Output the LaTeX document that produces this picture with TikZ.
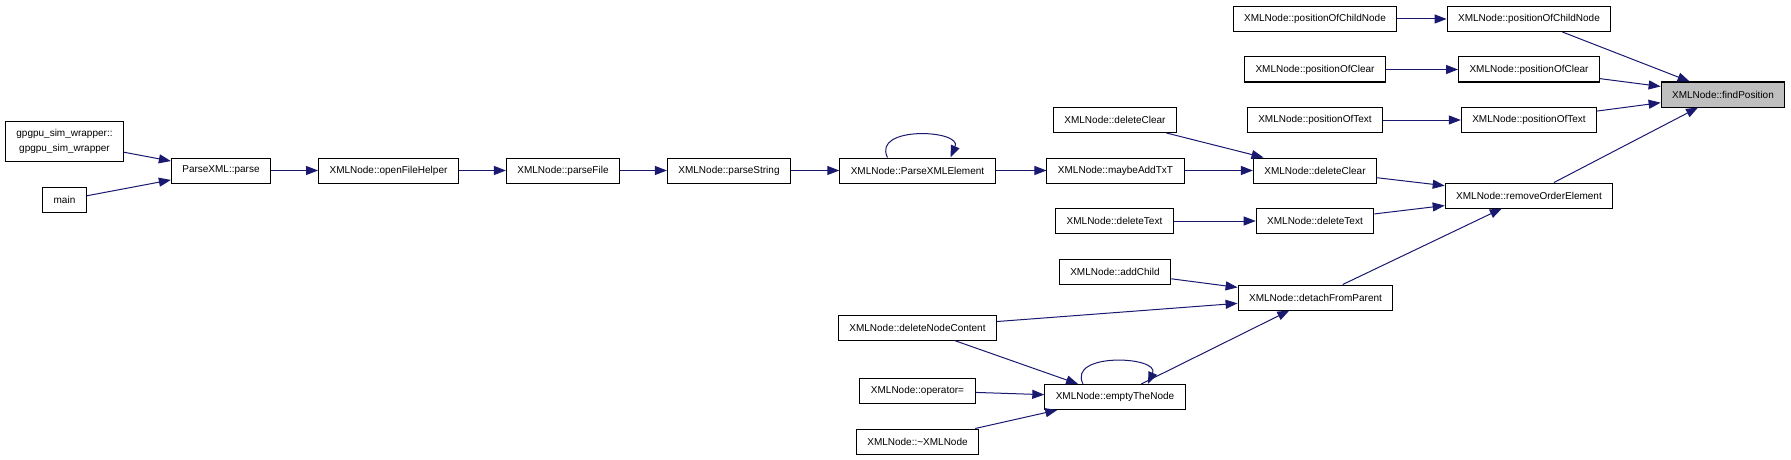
\documentclass[tikz,border=0pt]{standalone}
\usepackage{fontspec}
\setmainfont{Liberation Sans}
\usepackage{tikz}
\usetikzlibrary{arrows.meta}
\definecolor{callblue}{HTML}{191970}
\tikzset{%
  callarrow/.style = {-{Triangle[length=12pt,width=9pt]},draw=callblue,
        line width=1pt},
  fn/.style = {rectangle,draw,solid,line width=1pt,fill=white,
        inner xsep=11pt,inner ysep=0pt,minimum height=25pt,
        font=\fontsize{10}{12}\selectfont},
  fncur/.style = {fn,fill=black!25}
}
\begin{document}
\begin{tikzpicture}[x=1pt,y=1pt]
\useasboundingbox (0,0) rectangle (1791,-460);
\node[fn,minimum height=40pt,align=center,font=\fontsize{10}{15}\selectfont]
    (gpgpu) at (64.5,-141) {gpgpu\_sim\_wrapper::\\gpgpu\_sim\_wrapper};
\node[fn] (main) at (64.5,-200) {main};
\node[fn] (parse) at (221,-170.5) {ParseXML::parse};
\node[fn] (openfh) at (388.5,-170.5) {XMLNode::openFileHelper};
\node[fn] (parsefile) at (563,-170.5) {XMLNode::parseFile};
\node[fn] (parsestr) at (729,-170.5) {XMLNode::parseString};
\node[fn] (pxe) at (917.5,-170.5) {XMLNode::ParseXMLElement};
\node[fn] (maybeadd) at (1115.5,-170.5) {XMLNode::maybeAddTxT};
\node[fn] (delclrA) at (1115,-120) {XMLNode::deleteClear};
\node[fn] (deltxtA) at (1114.5,-221) {XMLNode::deleteText};
\node[fn] (addchild) at (1115,-271.5) {XMLNode::addChild};
\node[fn] (delnode) at (917.5,-327.5) {XMLNode::deleteNodeContent};
\node[fn] (opeq) at (917.5,-390.5) {XMLNode::operator=};
\node[fn] (dtor) at (917.5,-441.5) {XMLNode::\textasciitilde XMLNode};
\node[fn] (empty) at (1115,-397) {XMLNode::emptyTheNode};
\node[fn] (pocnA) at (1315,-19) {XMLNode::positionOfChildNode};
\node[fn] (poclA) at (1315,-69.5) {XMLNode::positionOfClear};
\node[fn] (potA) at (1315,-120) {XMLNode::positionOfText};
\node[fn] (delclrB) at (1315,-170.5) {XMLNode::deleteClear};
\node[fn] (deltxtB) at (1315,-221) {XMLNode::deleteText};
\node[fn] (detach) at (1315.5,-297.5) {XMLNode::detachFromParent};
\node[fn] (pocnB) at (1529,-19) {XMLNode::positionOfChildNode};
\node[fn] (poclB) at (1529,-69.5) {XMLNode::positionOfClear};
\node[fn] (potB) at (1529,-120) {XMLNode::positionOfText};
\node[fn] (remove) at (1529,-195.5) {XMLNode::removeOrderElement};
\node[fncur] (find) at (1723,-94.5) {XMLNode::findPosition};

\draw[callarrow] (gpgpu) -- (parse);
\draw[callarrow] (main) -- (parse);
\draw[callarrow] (parse) -- (openfh);
\draw[callarrow] (openfh) -- (parsefile);
\draw[callarrow] (parsefile) -- (parsestr);
\draw[callarrow] (parsestr) -- (pxe);
\draw[callarrow] ([xshift=-30pt]pxe.north) .. controls +(-16,32) and +(12,28) .. ([xshift=33pt]pxe.north);
\draw[callarrow] (pxe) -- (maybeadd);
\draw[callarrow] (maybeadd) -- (delclrB);
\draw[callarrow] (delclrA) -- (delclrB);
\draw[callarrow] (deltxtA) -- (deltxtB);
\draw[callarrow] (delclrB) -- (remove);
\draw[callarrow] (deltxtB) -- (remove);
\draw[callarrow] (addchild) -- (detach);
\draw[callarrow] (delnode) -- (detach);
\draw[callarrow] (delnode) -- (empty);
\draw[callarrow] (opeq) -- (empty);
\draw[callarrow] (dtor) -- (empty);
\draw[callarrow] ([xshift=-32pt]empty.north) .. controls +(-16,32) and +(12,28) .. ([xshift=33pt]empty.north);
\draw[callarrow] (empty) -- (detach);
\draw[callarrow] (detach) -- (remove);
\draw[callarrow] (pocnA) -- (pocnB);
\draw[callarrow] (poclA) -- (poclB);
\draw[callarrow] (potA) -- (potB);
\draw[callarrow] (pocnB) -- (find);
\draw[callarrow] (poclB) -- (find);
\draw[callarrow] (potB) -- (find);
\draw[callarrow] (remove) -- (find);
\end{tikzpicture}
\end{document}
